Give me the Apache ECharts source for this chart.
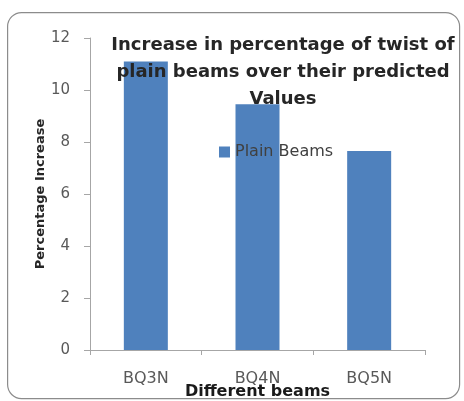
<!DOCTYPE html>
<html><head><meta charset="utf-8">
<script src="https://cdn.jsdelivr.net/npm/echarts@6/dist/echarts.min.js"></script>
<style>html,body{margin:0;padding:0;background:#fff}#c{width:464px;height:401px}</style>
</head><body><div id="c"></div>
<script>
const categories = ['BQ3N', 'BQ4N', 'BQ5N'];
const plainBeams = [11.1, 9.45, 7.65];
const yTicks = [0, 2, 4, 6, 8, 10, 12];

const FONT = 'DejaVu Sans';
const chart = echarts.init(document.getElementById('c'));
chart.setOption({
  animation: false,
  backgroundColor: '#fff',
  graphic: [{
    type: 'rect', left: 7, top: 12, z: -1,
    shape: { width: 452, height: 386, r: 14 },
    style: { fill: '#fff', stroke: '#8c8c8c', lineWidth: 1.2 }
  }],
  title: {
    text: 'Increase in percentage of twist of\nplain beams over their predicted\nValues',
    left: 278, top: 27, textAlign: 'center',
    textStyle: { fontFamily: FONT, fontWeight: 'bold', fontSize: 18, color: '#262626', lineHeight: 27 }
  },
  legend: {
    data: ['Plain Beams'], left: 214, top: 139, itemWidth: 11, itemHeight: 11, itemGap: 6,
    icon: 'rect',
    textStyle: { fontFamily: FONT, fontSize: 16, color: '#404040' }
  },
  grid: { left: 90, right: 39, top: 38, bottom: 51, outerBoundsMode: 'none' },
  xAxis: {
    type: 'category', data: categories,
    name: 'Different beams', nameLocation: 'middle', nameGap: 34, nameMoveOverlap: false,
    nameTextStyle: { fontFamily: FONT, fontWeight: 'bold', fontSize: 16, color: '#1a1a1a' },
    axisLine: { lineStyle: { color: '#a6a6a6' } },
    axisTick: { show: true, length: 5, lineStyle: { color: '#a6a6a6' } },
    axisLabel: { fontFamily: FONT, fontSize: 16, color: '#595959', margin: 21 }
  },
  yAxis: {
    type: 'value', min: yTicks[0], max: yTicks[yTicks.length - 1], interval: 2,
    name: 'Percentage Increase', nameLocation: 'middle', nameGap: 43, nameRotate: 90, nameMoveOverlap: false,
    nameTextStyle: { fontFamily: FONT, fontWeight: 'bold', fontSize: 13, color: '#262626' },
    axisLine: { show: true, lineStyle: { color: '#a6a6a6' } },
    axisTick: { show: true, length: 6, lineStyle: { color: '#a6a6a6' } },
    splitLine: { show: false },
    axisLabel: { fontFamily: FONT, fontSize: 15, color: '#595959', margin: 20 }
  },
  series: [{
    name: 'Plain Beams', type: 'bar', data: plainBeams, barWidth: 44,
    itemStyle: { color: '#4f81bd' }
  }]
});
</script></body></html>
